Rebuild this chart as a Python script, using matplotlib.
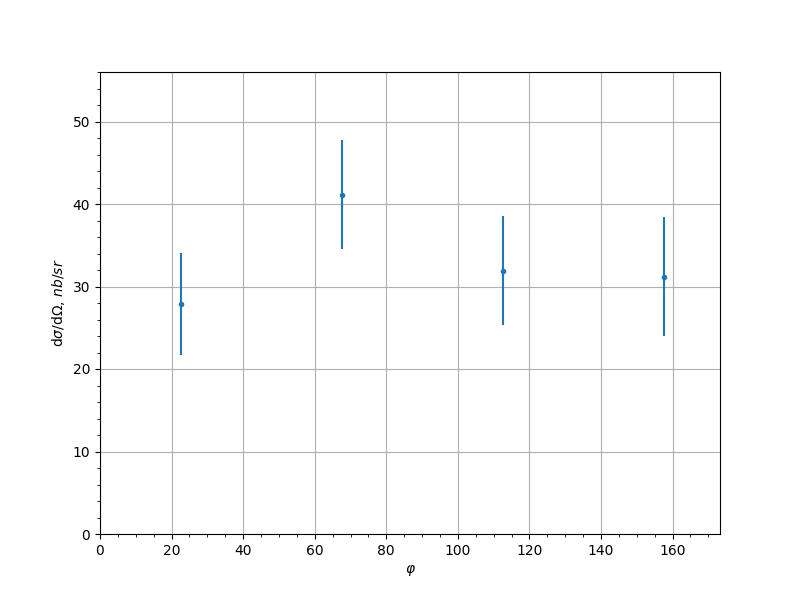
import matplotlib
matplotlib.use('Agg')
import matplotlib.pyplot as plt

phi = [22.5, 67.5, 112.5, 157.5]
xsec = [27.9, 41.1, 31.9, 31.2]
xsec_err = [6.2, 6.6, 6.6, 7.2]

fig, ax = plt.subplots(figsize=(8, 6), dpi=100)
ax.errorbar(phi, xsec, yerr=xsec_err, fmt='.')
ax.set_xlim(0, max(phi) * 1.1)
ax.set_ylim(0, 56)
ax.set_xlabel(r'$\varphi$')
ax.set_ylabel(r'd$\sigma$/d$\Omega$, $nb/sr$')
ax.minorticks_on()
ax.grid(True, which='major')

plt.savefig('out.png')
